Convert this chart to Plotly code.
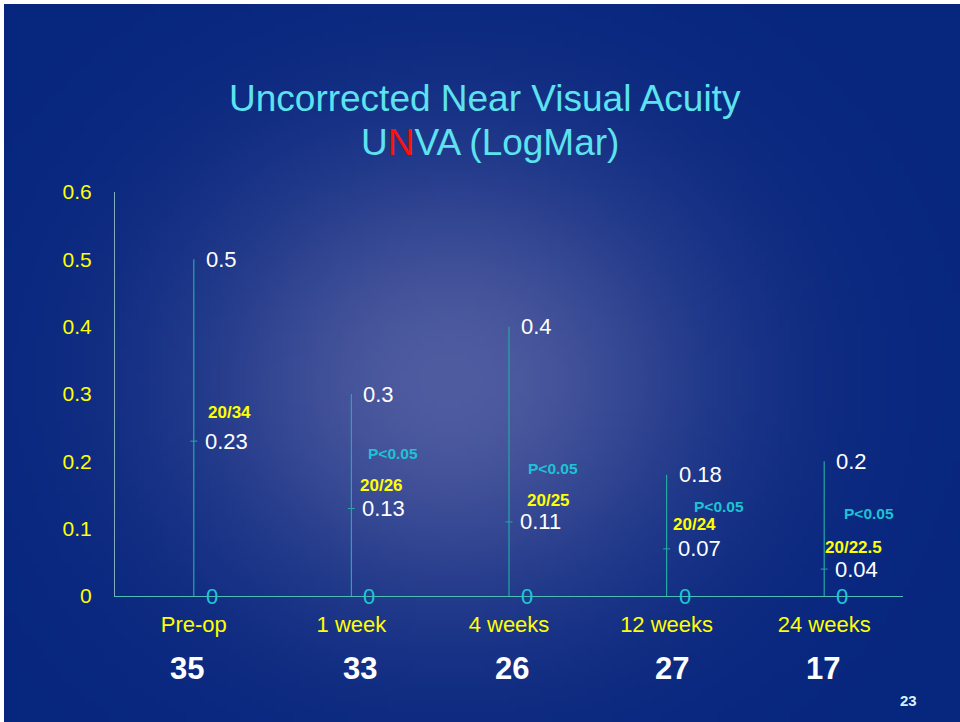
import base64
import struct
import zlib

import numpy as np
import plotly.graph_objects as go

# ---------------- data ----------------
categories = ["Pre-op", "1 week", "4 weeks", "12 weeks", "24 weeks"]
high_vals = [0.5, 0.3, 0.4, 0.18, 0.2]
mean_vals = [0.23, 0.13, 0.11, 0.07, 0.04]
low_vals = [0, 0, 0, 0, 0]
snellen = ["20/34", "20/26", "20/25", "20/24", "20/22.5"]
p_labels = ["", "P<0.05", "P<0.05", "P<0.05", "P<0.05"]
n_eyes = [35, 33, 26, 27, 17]
y_ticks = [0, 0.1, 0.2, 0.3, 0.4, 0.5, 0.6]
y_tick_text = ["0", "0.1", "0.2", "0.3", "0.4", "0.5", "0.6"]

# label offsets (pixels) – layout only
snellen_dx = [12, 7, 16, 4, -1]
snellen_dy = [29, 23, 21, 24, 22]
p_dx = [0, 15, 17, 25, 18]
p_dy = [0, 55, 53, 42, 56]
n_dx = [-7, 9, 3, 5, -1]

# ---------------- background gradient image ----------------
W, H = 160, 120
ys, xs = np.mgrid[0:H, 0:W]
px = xs / (W - 1) * 956 + 4
py = ys / (H - 1) * 718 + 4
base = np.array([7, 38, 126], dtype=float)
glow = np.array([80, 92, 160], dtype=float)
g = np.exp(-(((px - 450) / 260) ** 2 + ((py - 380) / 230) ** 2))
img = base[None, None, :] + (glow - base)[None, None, :] * g[:, :, None]
img = np.clip(img, 0, 255).astype(np.uint8)


def png_uri(arr):
    h, w, _ = arr.shape
    raw = b"".join(b"\x00" + arr[r].tobytes() for r in range(h))

    def chunk(tag, data):
        c = struct.pack(">I", len(data)) + tag + data
        return c + struct.pack(">I", zlib.crc32(tag + data) & 0xFFFFFFFF)

    png = b"\x89PNG\r\n\x1a\n"
    png += chunk(b"IHDR", struct.pack(">IIBBBBB", w, h, 8, 2, 0, 0, 0))
    png += chunk(b"IDAT", zlib.compress(raw, 9))
    png += chunk(b"IEND", b"")
    return "data:image/png;base64," + base64.b64encode(png).decode()


# ---------------- figure ----------------
L, R, T, B = 115, 57, 192, 126
PW, PH = 960 - L - R, 722 - T - B


def xp(pxv):
    return (pxv - L) / PW


def yp(pyv):
    return (722 - B - pyv) / PH


FONT = "Liberation Sans, Arial, sans-serif"
LINE = "#22a9a2"

err_plus = [h - m for h, m in zip(high_vals, mean_vals)]
err_minus = [m - l for m, l in zip(mean_vals, low_vals)]

fig = go.Figure()
fig.add_trace(
    go.Scatter(
        x=categories,
        y=mean_vals,
        mode="markers",
        marker=dict(symbol="line-ew", size=5, line=dict(color=LINE, width=1)),
        error_y=dict(
            type="data",
            symmetric=False,
            array=err_plus,
            arrayminus=err_minus,
            color=LINE,
            thickness=1.2,
            width=0,
        ),
        hoverinfo="skip",
        showlegend=False,
    )
)

ann = []
for i, c in enumerate(categories):
    ann.append(dict(x=c, y=high_vals[i], text=f"{high_vals[i]:g}", xanchor="left",
                    yanchor="middle", xshift=10, showarrow=False,
                    font=dict(family=FONT, size=22, color="white")))
    ann.append(dict(x=c, y=mean_vals[i], text=f"{mean_vals[i]:g}", xanchor="left",
                    yanchor="middle", xshift=9, showarrow=False,
                    font=dict(family=FONT, size=22, color="white")))
    ann.append(dict(x=c, y=low_vals[i], text=f"{low_vals[i]:g}", xanchor="center",
                    yanchor="middle", xshift=18, showarrow=False,
                    font=dict(family=FONT, size=22, color="#1ec8d6")))
    ann.append(dict(x=c, y=mean_vals[i], text=f"<b>{snellen[i]}</b>", xanchor="left",
                    yanchor="middle", xshift=snellen_dx[i], yshift=snellen_dy[i],
                    showarrow=False, font=dict(family=FONT, size=17, color="#ffff00")))
    if p_labels[i]:
        ann.append(dict(x=c, y=mean_vals[i], text=f"<b>{p_labels[i]}</b>", xanchor="left",
                        yanchor="middle", xshift=p_dx[i], yshift=p_dy[i],
                        showarrow=False, font=dict(family=FONT, size=15.5, color="#1ec3d3")))
    ann.append(dict(x=c, yref="paper", y=yp(668), text=f"<b>{n_eyes[i]}</b>",
                    xanchor="center", yanchor="middle", xshift=n_dx[i], showarrow=False,
                    font=dict(family=FONT, size=31, color="white")))

ann.append(dict(xref="paper", yref="paper", x=xp(485), y=yp(98),
                text="Uncorrected Near Visual Acuity", showarrow=False,
                xanchor="center", yanchor="middle",
                font=dict(family=FONT, size=37, color="#5ce3ef")))
ann.append(dict(xref="paper", yref="paper", x=xp(490), y=yp(143),
                text="U<span style='color:#ff1010'>N</span>VA (LogMar)", showarrow=False,
                xanchor="center", yanchor="middle",
                font=dict(family=FONT, size=37, color="#5ce3ef")))
ann.append(dict(xref="paper", yref="paper", x=xp(908), y=yp(700),
                text="<b>23</b>", showarrow=False, xanchor="center", yanchor="middle",
                font=dict(family=FONT, size=15, color="#d4f2ff")))

fig.update_layout(
    width=960,
    height=722,
    margin=dict(l=L, r=R, t=T, b=B, pad=0),
    paper_bgcolor="white",
    plot_bgcolor="rgba(0,0,0,0)",
    showlegend=False,
    annotations=ann,
    images=[dict(source=png_uri(img), xref="paper", yref="paper",
                 x=xp(4), y=yp(4), sizex=956 / PW, sizey=718 / PH,
                 xanchor="left", yanchor="top", sizing="stretch", layer="below")],
    xaxis=dict(
        type="category",
        categoryorder="array",
        categoryarray=categories,
        range=[-0.5, len(categories) - 0.5],
        showgrid=False,
        zeroline=False,
        showline=True,
        linecolor="#4dbdb5",
        linewidth=1,
        ticks="",
        ticklabelstandoff=9,
        tickfont=dict(family=FONT, size=22, color="#ffff00"),
    ),
    yaxis=dict(
        range=[0, 0.6],
        tickvals=y_ticks,
        ticktext=y_tick_text,
        showgrid=False,
        zeroline=False,
        showline=True,
        linecolor="#80acbc",
        linewidth=1,
        ticks="",
        ticklabelstandoff=18,
        tickfont=dict(family=FONT, size=21, color="#ffff00"),
    ),
)

fig.write_html(
    "out.html",
    config={"displayModeBar": False},
    post_script="document.body.style.margin='0';document.body.style.padding='0';",
)
